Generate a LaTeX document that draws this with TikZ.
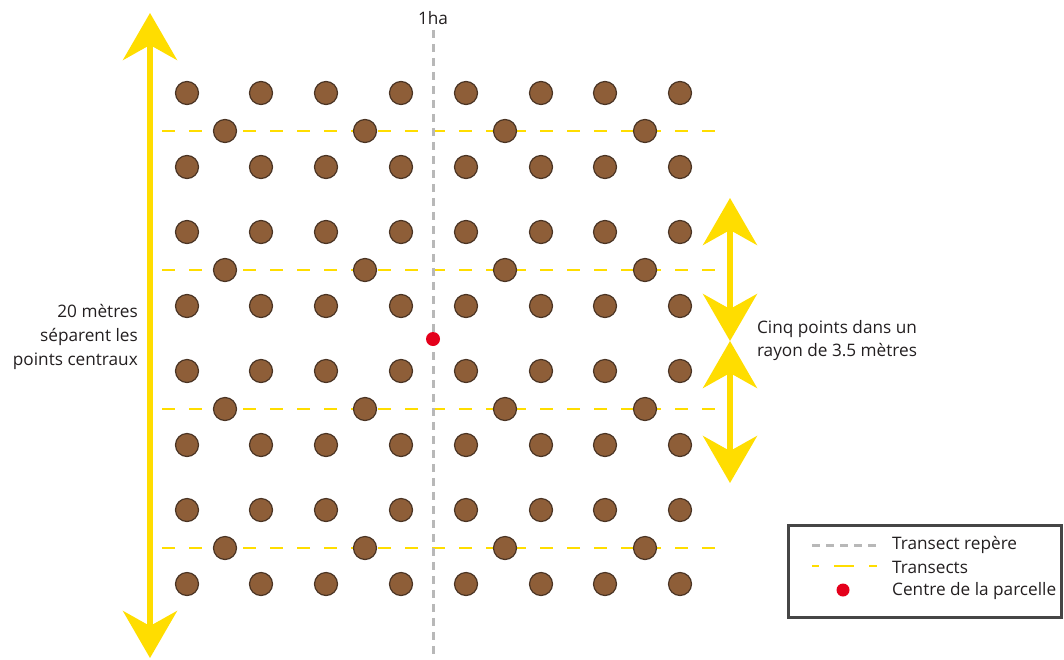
\documentclass[tikz,border=0pt]{standalone}
\usepackage{fontspec}
\setmainfont{Open Sans}
\usetikzlibrary{positioning, arrows.meta, calc}
\definecolor{bark}{RGB}{142,94,56}
\definecolor{barkline}{RGB}{74,52,36}
\definecolor{sun}{RGB}{255,221,0}
\definecolor{ash}{RGB}{184,184,184}
\definecolor{plotred}{RGB}{228,0,27}
\definecolor{ink}{RGB}{35,31,32}
\definecolor{frame}{RGB}{70,70,70}
\tikzset{
  tree/.style     ={circle, draw=barkline, fill=bark, line width=1.2pt,
                    minimum size=23pt, inner sep=0pt},
  centre/.style   ={circle, fill=plotred, minimum size=14pt, inner sep=0pt},
  transect/.style ={sun, line width=2.8pt, dash pattern=on 13pt off 14pt},
  refline/.style  ={ash, line width=3pt, dash pattern=on 8pt off 6pt},
  bigarr/.style   ={sun, line width=5.5pt,
                    {Stealth[length=47pt, width=54pt, inset=15pt]}-{Stealth[length=47pt, width=54pt, inset=15pt]}},
  txt/.style      ={font=\fontsize{17.2}{24}\selectfont, text=ink, inner sep=0pt},
}
\begin{document}
\begin{tikzpicture}[x=1pt, y=-1pt]
\useasboundingbox (0,0) rectangle (1064,659);

% transects
\foreach \i/\y in {1/131, 2/270, 3/409, 4/548} {
  \coordinate (tl\i) at (162,\y);
  \coordinate (tr\i) at (722,\y);
  \draw[transect] (tl\i) -- (tr\i);
}

% reference transect
\node[txt] (ha) at (433,18) {1ha};
\coordinate (refend) at (433,656);
\draw[refline] ([yshift=-5pt]ha.south) -- (refend);

% trees
\foreach \r/\y in {1/93, 2/167, 3/232, 4/306, 5/371, 6/445, 7/510, 8/584} {
  \foreach \c/\x in {1/187, 2/261, 3/326, 4/401, 5/466, 6/541, 7/605, 8/680} {
    \node[tree] (t\r-\c) at (\x,\y) {};
  }
}
\foreach \r/\y in {1/131, 2/270, 3/409, 4/548} {
  \foreach \c/\x in {1/225, 2/365, 3/505, 4/645} {
    \node[tree] (m\r-\c) at (\x,\y) {};
  }
}

\node[centre] (plot) at (433,339) {};

% arrows
\coordinate (ltop) at (150,13);
\coordinate (lbot) at (150,658);
\draw[bigarr] (ltop) -- (lbot);
\node[txt, anchor=east, align=right] (sep) at (138,337) {20 mètres\\séparent les\\points centraux};

\coordinate (rtop) at (730,198);
\coordinate (rmid) at (730,341);
\coordinate (rbot) at (730,483);
\draw[bigarr] (rtop) -- (rmid);
\draw[bigarr] (rmid) -- (rbot);
\node[txt, align=center, font=\fontsize{17.2}{23}\selectfont] (radius) at (837,341) {Cinq points dans un\\rayon de 3.5 mètres};

% legend
\node[draw=frame, line width=2.5pt, minimum width=273pt, minimum height=92pt, inner sep=0pt] (legend) at (925,571.5) {};
\coordinate (ga) at (812,545);
\coordinate (gb) at (877,545);
\draw[refline] (ga) -- (gb);
\coordinate (ya) at (812,566);
\coordinate (yb) at (877,566);
\draw[sun, line width=2.8pt, dash pattern=on 20pt off 15pt, dash phase=13pt] (ya) -- (yb);
\node[centre, minimum size=13pt] (ldot) at (843,590) {};
\node[txt, anchor=west] (lg1) at (892,545) {Transect repère};
\node[txt, anchor=west] (lg2) at (892,567) {Transects};
\node[txt, anchor=west] (lg3) at (892,591) {Centre de la parcelle};
\end{tikzpicture}
\end{document}
